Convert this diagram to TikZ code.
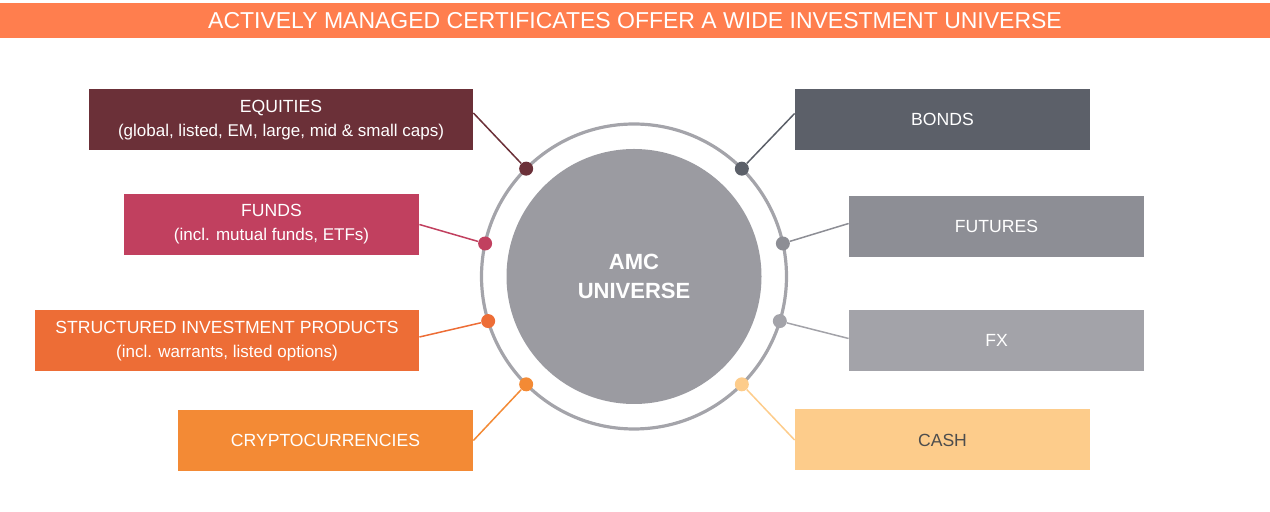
\documentclass[tikz,border=0pt]{standalone}
\usepackage{fontspec}
\setmainfont{Liberation Sans}
\usetikzlibrary{calc}

\definecolor{kopf}{HTML}{FF7E4E}
\definecolor{aktien}{HTML}{6B3038}
\definecolor{fonds}{HTML}{C1405F}
\definecolor{struktur}{HTML}{ED6D36}
\definecolor{krypto}{HTML}{F38A35}
\definecolor{anleihen}{HTML}{5C6069}
\definecolor{futures}{HTML}{8D8E95}
\definecolor{devisen}{HTML}{A3A3A9}
\definecolor{bargeld}{HTML}{FDCC8B}
\definecolor{kern}{HTML}{9B9BA1}
\definecolor{ring}{HTML}{A4A4AA}
\definecolor{dunkel}{HTML}{4D4D4D}

\newcommand{\unterzeile}[1]{{\fontsize{8.5}{12}\selectfont #1}}

\begin{document}
\begin{tikzpicture}[x=0.5pt, y=-0.5pt,
    kasten/.style={fill=#1, text=white, inner sep=0pt, align=center,
        minimum width=147.5pt, minimum height=30.5pt,
        font=\fontsize{8.8}{12}\selectfont},
    breit/.style={minimum width=192pt},
    punkt/.style={circle, fill=#1, inner sep=0pt, minimum size=7pt},
    linie/.style={draw=#1, line width=0.75pt}]

    % 1. Rahmen und Kopfzeile
    \useasboundingbox (0,0) rectangle (1270,512);
    \node[fill=kopf, text=white, inner sep=0pt, minimum width=635pt, minimum height=17.5pt,
        font=\fontsize{11.5}{13}\selectfont] (titel) at (635,20.5)
        {ACTIVELY MANAGED CERTIFICATES OFFER A WIDE INVESTMENT UNIVERSE};

    % 2. Mittelpunkt, Ring und Kern
    \coordinate (M) at (634,276.5);
    \draw[ring, line width=1.6pt] (M) circle[radius=76.25pt];
    \node[circle, fill=kern, text=white, inner sep=0pt, minimum size=127.5pt, align=center,
        font=\fontsize{11}{14.8}\selectfont\bfseries] (amc) at (M) {AMC\\UNIVERSE};

    % 3. Punkte auf dem Ring
    \node[punkt=aktien]   (pEq)  at ($(M)+(135:76.25pt)$) {};
    \node[punkt=fonds]    (pFu)  at ($(M)+(167.5:76.25pt)$) {};
    \node[punkt=struktur] (pSip) at ($(M)+(197:76.25pt)$) {};
    \node[punkt=krypto]   (pCr)  at ($(M)+(225:76.25pt)$) {};
    \node[punkt=anleihen] (pBo)  at ($(M)+(45:76.25pt)$) {};
    \node[punkt=futures]  (pFt)  at ($(M)+(12.5:76.25pt)$) {};
    \node[punkt=devisen]  (pFx)  at ($(M)+(-17:76.25pt)$) {};
    \node[punkt=bargeld]  (pCa)  at ($(M)+(-45:76.25pt)$) {};

    % 4. Kaesten links
    \node[kasten=aktien, breit] (eq) at (281,120)
        {EQUITIES\\\unterzeile{(global, listed, EM, large, mid \& small caps)}};
    \node[kasten=fonds] (fu) at (271.5,224.5)
        {FUNDS\\\unterzeile{(incl. mutual funds, ETFs)}};
    \node[kasten=struktur, breit] (sip) at (227,341)
        {STRUCTURED INVESTMENT PRODUCTS\\\unterzeile{(incl. warrants, listed options)}};
    \node[kasten=krypto] (cr) at (325.5,440.5) {CRYPTOCURRENCIES};

    % 5. Kaesten rechts
    \node[kasten=anleihen] (bo) at (942.5,119.5) {BONDS};
    \node[kasten=futures]  (ft) at (996.5,226.5) {FUTURES};
    \node[kasten=devisen]  (fx) at (996.5,340.5) {FX};
    \node[kasten=bargeld, text=dunkel] (ca) at (942.5,440) {CASH};

    % 6. Verbindungslinien
    \draw[linie=aktien]   ($(eq.east)+(0,-7)$) -- (pEq);
    \draw[linie=fonds]    (fu.east) -- (pFu);
    \draw[linie=struktur] ($(sip.east)+(0,-4)$) -- (pSip);
    \draw[linie=krypto]   (cr.east) -- (pCr);
    \draw[linie=anleihen] ($(bo.west)+(0,-6)$) -- (pBo);
    \draw[linie=futures]  ($(ft.west)+(0,-3)$) -- (pFt);
    \draw[linie=devisen]  ($(fx.west)+(0,-2)$) -- (pFx);
    \draw[linie=bargeld]  (ca.west) -- (pCa);

\end{tikzpicture}
\end{document}
